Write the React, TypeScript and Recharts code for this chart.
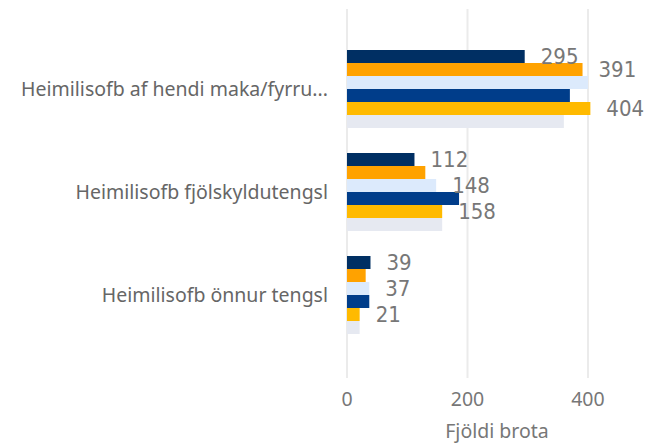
import React from "react";
import { BarChart, Bar, XAxis, YAxis, CartesianGrid, LabelList } from "recharts";

// Categories as shown on the axis (first one is cut off in the source)
const categories = [
  "Heimilisofb af hendi maka/fyrru...",
  "Heimilisofb fjölskyldutengsl",
  "Heimilisofb önnur tengsl",
];

// Six series
const seriesA = [295, 112, 39];
const seriesB = [391, 130, 31];
const seriesC = [400, 148, 37];
const seriesD = [370, 186, 37];
const seriesE = [404, 158, 21];
const seriesF = [360, 158, 21];

// Which data labels are visible (the others are hidden as overlapping)
const showA = [true, true, true];
const showB = [true, false, false];
const showC = [false, true, true];
const showD = [false, false, false];
const showE = [true, true, true];
const showF = [false, false, false];

const xTicks = [0, 200, 400];
const xMax = 498;

const series = [
  { key: "a", values: seriesA, show: showA, color: "#002F63" },
  { key: "b", values: seriesB, show: showB, color: "#FFA200" },
  { key: "c", values: seriesC, show: showC, color: "#DCEAFC" },
  { key: "d", values: seriesD, show: showD, color: "#003D8A" },
  { key: "e", values: seriesE, show: showE, color: "#FFBA00" },
  { key: "f", values: seriesF, show: showF, color: "#E6E9F1" },
];

const data = categories.map((name, i) => {
  const row: any = { name };
  series.forEach((s) => (row[s.key] = s.values[i]));
  return row;
});

const textFont = "'Noto Sans', sans-serif";

function makeLabel(show: boolean[]) {
  return (props: any) => {
    const { x, y, width, height, value, index } = props;
    if (!show[index]) return null;
    return (
      <text
        x={Number(x) + Number(width) + 16}
        y={Number(y) + Number(height) / 2}
        dominantBaseline="central"
        fill="#777"
        fontSize={22}
        fontFamily="'DejaVu Sans Condensed', 'DejaVu Sans', sans-serif"
      >
        {value}
      </text>
    );
  };
}

// only draw grid lines at the tick values
const gridX = ({ xAxis, offset }: any) =>
  xTicks.map((t) =>
    xAxis && typeof xAxis.scale === "function"
      ? xAxis.scale(t)
      : offset.left + (t / xMax) * offset.width
  );

export default function App() {
  return (
    <div style={{ position: "absolute", left: 0, top: 0, background: "#fff" }}>
      <BarChart
        width={654}
        height={445}
        data={data}
        layout="vertical"
        margin={{ top: 9, right: 7, left: 0, bottom: 0 }}
        barCategoryGap={12}
        barGap={0}
      >
        <CartesianGrid
          horizontal={false}
          stroke="#ebebeb"
          strokeWidth={2}
          verticalCoordinatesGenerator={gridX}
        />
        <XAxis
          type="number"
          domain={[0, xMax]}
          ticks={xTicks}
          axisLine={false}
          tickLine={false}
          tickMargin={8}
          height={67}
          tick={{ fill: "#777", fontSize: 19.5, fontFamily: textFont }}
          label={{
            value: "Fjöldi brota",
            position: "insideBottom",
            offset: 7,
            fill: "#777",
            fontSize: 19.5,
            fontFamily: textFont,
          }}
        />
        <YAxis
          type="category"
          dataKey="name"
          width={347}
          axisLine={false}
          tickLine={false}
          tickMargin={13}
          padding={{ top: 29, bottom: 31 }}
          tick={{ fill: "#666", fontSize: 19.5, fontFamily: textFont }}
        />
        {series.map((s) => (
          <Bar key={s.key} dataKey={s.key} fill={s.color} isAnimationActive={false}>
            <LabelList dataKey={s.key} content={makeLabel(s.show)} />
          </Bar>
        ))}
      </BarChart>
    </div>
  );
}
